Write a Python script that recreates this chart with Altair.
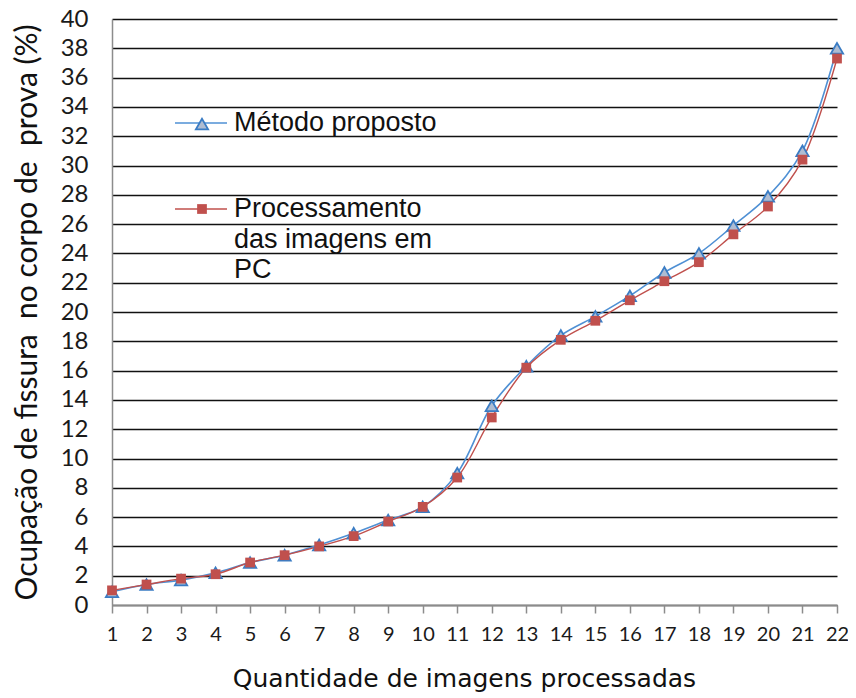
import altair as alt
import pandas as pd

# ---- data ----
imagens = list(range(1, 23))
metodo_proposto = [0.9, 1.4, 1.7, 2.2, 2.9, 3.4, 4.1, 4.9, 5.8, 6.7, 9.0,
                   13.6, 16.3, 18.4, 19.7, 21.1, 22.7, 24.0, 25.9, 27.9, 31.0, 38.0]
processamento_pc = [1.0, 1.4, 1.8, 2.1, 2.9, 3.4, 4.0, 4.7, 5.7, 6.7, 8.7,
                    12.8, 16.2, 18.1, 19.4, 20.8, 22.1, 23.4, 25.3, 27.2, 30.4, 37.3]
series_names = ["Método proposto", "Processamento das imagens em PC"]
y_ticks = list(range(0, 41, 2))

df = pd.DataFrame({
    "x": imagens * 2,
    "y": metodo_proposto + processamento_pc,
    "serie": [series_names[0]] * len(imagens) + [series_names[1]] * len(imagens),
})

BLUE_LINE = "#4f90d4"
BLUE_EDGE = "#3a7cc4"
BLUE_FILL = "#aebcd2"
RED = "#c0504d"

x_enc = alt.X("x:Q", scale=alt.Scale(domain=[1, 22], nice=False, zero=False),
              axis=alt.Axis(values=imagens, title="Quantidade de imagens processadas",
                            grid=False, tickSize=8, tickColor="#8c8c8c",
                            domainColor="#8c8c8c", domainWidth=1.5, tickWidth=1.5,
                            labelFont="Lato", labelFontSize=20, labelColor="#1a1a1a",
                            labelPadding=11, labelFlush=False,
                            titleFont="DejaVu Sans", titleFontSize=25,
                            titleFontWeight="normal", titleColor="#111",
                            titlePadding=22, titleX=352))
y_enc = alt.Y("y:Q", scale=alt.Scale(domain=[0, 40], nice=False),
              axis=alt.Axis(values=y_ticks,
                            title="Ocupação de fissura \u00a0no corpo de \u00a0prova (%)",
                            grid=True, gridColor="#111", gridWidth=1.6,
                            tickSize=0, domainColor="#8c8c8c", domainWidth=1.5,
                            labelFont="Lato", labelFontSize=24, labelColor="#1a1a1a",
                            labelPadding=24,
                            titleFont="Lato", titleFontSize=30,
                            titleFontWeight="normal", titleColor="#111",
                            titleAngle=270, titleBaseline="bottom", titleX=-70))

base = alt.Chart(df).encode(x=x_enc, y=y_enc)

blue_line = base.transform_filter(alt.datum.serie == series_names[0]).mark_line(
    color=BLUE_LINE, strokeWidth=1.6, interpolate="catmull-rom")
red_line = base.transform_filter(alt.datum.serie == series_names[1]).mark_line(
    color=RED, strokeWidth=1.4, interpolate="catmull-rom")
blue_pts = base.transform_filter(alt.datum.serie == series_names[0]).mark_point(
    shape="triangle-up", size=150, filled=True, fill=BLUE_FILL, stroke=BLUE_EDGE,
    strokeWidth=1.8, opacity=1)
red_pts = base.transform_filter(alt.datum.serie == series_names[1]).mark_point(
    shape="square", size=95, filled=True, color=RED, opacity=1)

# ---- manual legend inside the plot ----
leg_src = alt.Chart(pd.DataFrame({"k": [0]}))
leg_line1 = leg_src.mark_rule(color=BLUE_LINE, strokeWidth=1.6).encode(
    x=alt.value(63), x2=alt.value(115), y=alt.value(104))
leg_pt1 = leg_src.mark_point(shape="triangle-up", size=150, filled=True, fill=BLUE_FILL,
                             stroke=BLUE_EDGE, strokeWidth=1.8, opacity=1).encode(
    x=alt.value(90), y=alt.value(105))
leg_txt1 = leg_src.mark_text(align="left", baseline="middle", font="Liberation Sans",
                             fontSize=27, color="#111").encode(
    x=alt.value(122), y=alt.value(104), text=alt.value("Método proposto"))
leg_line2 = leg_src.mark_rule(color=RED, strokeWidth=1.4).encode(
    x=alt.value(63), x2=alt.value(115), y=alt.value(190))
leg_pt2 = leg_src.mark_point(shape="square", size=95, filled=True, color=RED, opacity=1).encode(
    x=alt.value(90), y=alt.value(190))
leg_lines = ["Processamento", "das imagens em", "PC"]
leg_txts = [
    leg_src.mark_text(align="left", baseline="middle", font="Liberation Sans",
                      fontSize=27, color="#111").encode(
        x=alt.value(122), y=alt.value(190 + 30.5 * i), text=alt.value(t))
    for i, t in enumerate(leg_lines)
]

chart = alt.layer(
    blue_line, red_line, blue_pts, red_pts,
    leg_line1, leg_pt1, leg_txt1, leg_line2, leg_pt2, *leg_txts
).properties(
    width=725, height=586,
    autosize=alt.AutoSizeParams(type="none"),
    padding={"left": 104, "top": 11, "right": 11, "bottom": 92},
    background="white",
).configure_view(stroke=None)

chart.save("out.html", embed_options={"renderer": "svg", "actions": False})
